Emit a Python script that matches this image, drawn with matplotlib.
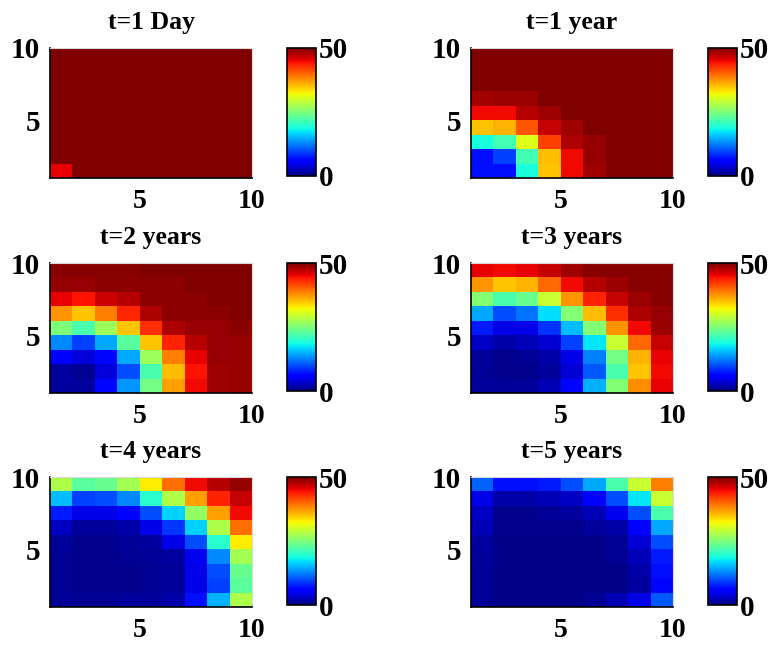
import numpy as np
import matplotlib
matplotlib.use("Agg")
import matplotlib.pyplot as plt

plt.rcParams['font.family'] = ['Liberation Serif', 'DejaVu Serif']
plt.rcParams['font.weight'] = 'bold'

titles = ["t=1 Day", "t=1 year", "t=2 years", "t=3 years", "t=4 years", "t=5 years"]
x_ticks = [5, 10]
y_ticks = [5, 10]
cbar_ticks = [0, 50]

# rows listed from top (y=9..10) to bottom (y=1..2), 9 columns each
t_1day = [
    [50]*9, [50]*9, [50]*9, [50]*9, [50]*9, [50]*9, [50]*9, [50]*9,
    [45.5, 50, 50, 50, 50, 50, 50, 50, 50],
]
t_1year = [
    [50]*9,
    [50]*9,
    [50]*9,
    [48.3, 48.7, 48.7, 50, 50, 50, 50, 50, 50],
    [45, 45, 47.5, 48.5, 50, 50, 50, 50, 50],
    [35, 36, 41, 47, 48.5, 50, 50, 50, 50],
    [19, 21.5, 31, 42, 48, 49, 50, 50, 50],
    [7, 9.5, 21.5, 35.5, 45, 49, 50, 50, 50],
    [7, 7, 19, 35, 45, 48.5, 50, 50, 50],
]
t_2years = [
    [49.5, 49.5, 49.5, 49.5, 50, 50, 50, 50, 50],
    [49, 49, 49.3, 49.3, 49.3, 49.3, 50, 50, 50],
    [45.5, 44.5, 46.5, 47.5, 49.3, 49.3, 49.3, 50, 50],
    [37.5, 35, 38.7, 43.5, 48, 49.3, 49.3, 49.3, 50],
    [25, 22, 27, 35, 43, 48, 49, 49, 49.5],
    [13, 9.4, 14.5, 23, 35, 43.7, 47.5, 49, 49],
    [5.8, 4, 6.5, 14.5, 27, 38.7, 45.5, 49, 49],
    [1.5, 0.8, 4, 10, 22, 35.5, 44.5, 48.5, 49],
    [1.5, 1.5, 6.5, 13.5, 24.5, 37, 45, 48.5, 49],
]
t_3years = [
    [45.5, 45, 45.5, 47, 48.5, 49.5, 49.5, 49.5, 49.5],
    [37.5, 35, 36, 40, 45, 47.5, 48.7, 49.5, 49.5],
    [25.5, 22, 23.7, 29.5, 37.5, 43.7, 47, 48.7, 49.5],
    [14.5, 10, 12, 17, 25.5, 35.5, 43, 48, 49],
    [7.5, 4.6, 4.6, 8.7, 15.6, 25.5, 37.5, 45, 48.7],
    [3, 1.9, 2.5, 3.7, 9.4, 17.5, 29.5, 40, 47],
    [1.2, 0.6, 1, 1.9, 4.6, 12.5, 24.5, 36, 45.5],
    [1, 0.6, 0.6, 1.2, 3.8, 10.6, 22, 35, 45],
    [1.2, 1, 1.2, 2.5, 6.25, 15, 25.5, 38, 45.5],
]
t_4years = [
    [28, 23, 23.7, 27.5, 33, 39.5, 45, 47.5, 49],
    [15.6, 9.4, 10, 13, 20, 28, 37, 43.7, 47],
    [7.5, 4.6, 4.6, 5.8, 10, 16.5, 26.5, 37, 45],
    [3, 1.2, 1.2, 1.9, 4.6, 8.8, 16.5, 28, 39.5],
    [1.2, 0.6, 0.6, 1, 1.5, 4.6, 10, 20, 33],
    [1, 0.6, 0.6, 0.8, 1, 1.5, 5, 13, 27.5],
    [1, 0.6, 0.6, 0.6, 0.8, 1.2, 4.6, 10, 23.7],
    [1, 0.6, 0.6, 0.6, 0.8, 1.2, 4.6, 9.4, 23],
    [1, 0.8, 0.8, 1.2, 1.2, 1.9, 7, 15, 28],
]
t_5years = [
    [11, 7, 7, 7.5, 10, 14.5, 22, 29.5, 38.7],
    [4.6, 1.9, 1.9, 2.5, 3, 5.8, 10, 17.5, 29.5],
    [3, 0.6, 0.6, 1, 1.5, 2.5, 5, 10, 22],
    [2.5, 0.6, 0.6, 0.6, 0.6, 1.2, 1.9, 5.8, 14.5],
    [1.5, 0.5, 0.5, 0.5, 0.5, 0.5, 1, 3.8, 10],
    [1.2, 0.5, 0.5, 0.5, 0.5, 0.5, 0.8, 2.5, 7.5],
    [1, 0.5, 0.5, 0.5, 0.5, 0.5, 0.5, 1.9, 7],
    [1, 0.5, 0.5, 0.5, 0.5, 0.5, 0.5, 1.5, 6.5],
    [1, 0.5, 0.5, 0.5, 0.5, 0.8, 2.5, 4.6, 10.6],
]
panels = [t_1day, t_1year, t_2years, t_3years, t_4years, t_5years]

W, H = 771, 645
fig = plt.figure(figsize=(W / 100, H / 100), dpi=100)

grid_x = np.arange(1, 11)
grid_y = np.arange(1, 11)

col_x = [50, 471]
row_y = [48, 263, 477]
ax_w, ax_h = 202, 130
cb_dx, cb_w = 237, 29

for i, (data, title) in enumerate(zip(panels, titles)):
    r, c = divmod(i, 2)
    x0, y0 = col_x[c], row_y[r]
    ax = fig.add_axes([x0 / W, 1 - (y0 + ax_h) / H, ax_w / W, ax_h / H])
    Z = np.flipud(np.array(data, dtype=float))
    im = ax.pcolormesh(grid_x, grid_y, Z, cmap='jet', vmin=0, vmax=50, shading='flat')
    ax.set_xlim(1, 10)
    ax.set_ylim(1, 10)
    ax.set_xticks(x_ticks)
    ax.set_yticks(y_ticks)
    ax.tick_params(axis='x', length=0, labelsize=20, pad=8)
    ax.tick_params(axis='y', length=0, labelsize=21, pad=7)
    for lab in ax.get_xticklabels() + ax.get_yticklabels():
        lab.set_fontweight('bold')
    for s in ['top', 'right']:
        ax.spines[s].set_color('#d8d8d8')
        ax.spines[s].set_linewidth(0.8)
    for s in ['left', 'bottom']:
        ax.spines[s].set_color('black')
        ax.spines[s].set_linewidth(1.2)
    ax.set_title(title, fontsize=18.5, fontweight='bold', pad=14)

    cax = fig.add_axes([(x0 + cb_dx) / W, 1 - (y0 + 128) / H, cb_w / W, 128 / H])
    cb = fig.colorbar(im, cax=cax, ticks=cbar_ticks)
    cb.outline.set_linewidth(1.2)
    cb.outline.set_edgecolor('black')
    cax.tick_params(length=0, labelsize=21, pad=2)
    for lab in cax.get_yticklabels():
        lab.set_fontweight('bold')

fig.savefig("out.png", dpi=100)
